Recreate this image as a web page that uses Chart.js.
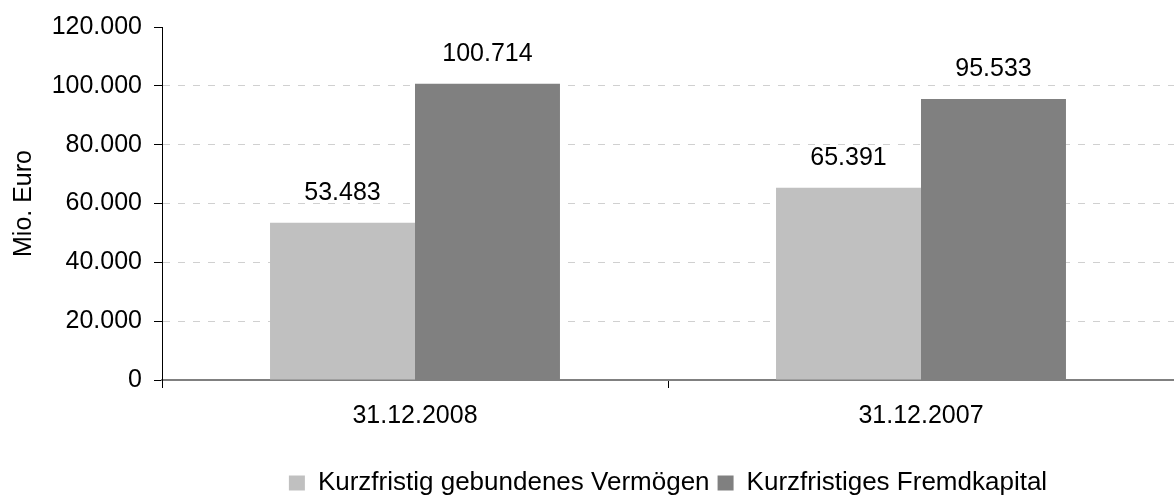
<!DOCTYPE html>
<html lang="de">
<head>
<meta charset="utf-8">
<title>Kurzfristige Liquidität</title>
<script src="https://cdn.jsdelivr.net/npm/chart.js@4.4.1/dist/chart.umd.min.js"></script>
<style>
    html, body { margin: 0; padding: 0; background: #ffffff; }
    #wrap { width: 1174px; height: 497px; }
</style>
</head>
<body>
<div id="wrap"><canvas id="chart" width="1174" height="497"></canvas></div>
<script>
const categories = ['31.12.2008', '31.12.2007'];
const seriesNames = ['Kurzfristig gebundenes Vermögen', 'Kurzfristiges Fremdkapital'];
const vermoegen = [53483, 65391];
const fremdkapital = [100714, 95533];
const yTicks = [0, 20000, 40000, 60000, 80000, 100000, 120000];

const FONT = 'Liberation Sans, Arial, sans-serif';

// German number format: 100714 -> 100.714
const fmt = (v) => String(Math.round(v)).replace(/\B(?=(\d{3})+(?!\d))/g, '.');

// Value labels above each bar
const barLabels = {
    id: 'barLabels',
    afterDatasetsDraw(chart) {
        const ctx = chart.ctx;
        ctx.save();
        ctx.font = '25px ' + FONT;
        ctx.fillStyle = '#000000';
        ctx.textAlign = 'center';
        ctx.textBaseline = 'middle';
        chart.data.datasets.forEach((ds, i) => {
            chart.getDatasetMeta(i).data.forEach((bar, j) => {
                ctx.fillText(fmt(ds.data[j]), bar.x, bar.y - 30);
            });
        });
        ctx.restore();
    }
};

new Chart(document.getElementById('chart').getContext('2d'), {
    type: 'bar',
    data: {
        labels: categories,
        datasets: [
            {
                label: seriesNames[0],
                data: vermoegen,
                backgroundColor: '#C0C0C0',
                borderWidth: 0
            },
            {
                label: seriesNames[1],
                data: fremdkapital,
                backgroundColor: '#808080',
                borderWidth: 0
            }
        ]
    },
    options: {
        responsive: false,
        animation: false,
        categoryPercentage: 0.573,
        barPercentage: 1.0,
        layout: {
            padding: { top: 24, right: -3, bottom: -9, left: 0 }
        },
        plugins: {
            legend: {
                position: 'bottom',
                fullSize: false,
                labels: {
                    font: { family: FONT, size: 26 },
                    color: '#000000',
                    boxWidth: 16,
                    boxHeight: 15,
                    padding: 8
                }
            },
            tooltip: { enabled: false }
        },
        scales: {
            x: {
                afterFit: (scale) => { scale.height = 82; },
                grid: {
                    offset: true,
                    drawOnChartArea: false,
                    tickLength: 8,
                    tickColor: '#000000'
                },
                border: { color: '#808080', width: 2 },
                ticks: {
                    font: { family: FONT, size: 25 },
                    color: '#000000',
                    padding: 13
                }
            },
            y: {
                min: 0,
                max: 120000,
                afterFit: (scale) => { scale.width = 162; },
                afterBuildTicks: (scale) => {
                    scale.ticks = yTicks.map(v => ({ value: v }));
                },
                grid: {
                    color: (c) => (c.tick && (c.tick.value === 0 || c.tick.value === 120000)) ? 'rgba(0,0,0,0)' : '#D0D0D0',
                    tickColor: '#000000',
                    tickBorderDash: [],
                    tickLength: 8
                },
                border: { color: '#000000', width: 1, dash: [7, 8] },
                ticks: {
                    font: { family: FONT, size: 25 },
                    color: '#000000',
                    padding: 12,
                    callback: (v) => fmt(v)
                },
                title: {
                    display: true,
                    text: 'Mio. Euro',
                    font: { family: FONT, size: 25 },
                    color: '#000000',
                    padding: { top: 9, bottom: 0 }
                }
            }
        }
    },
    plugins: [barLabels]
});
</script>
</body>
</html>
